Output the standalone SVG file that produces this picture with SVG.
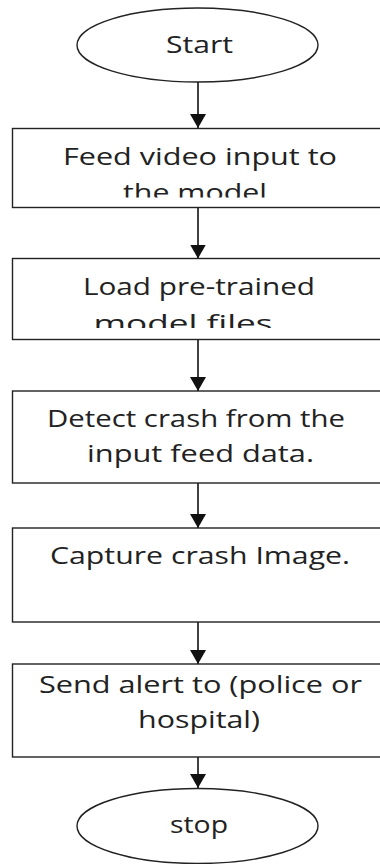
<svg xmlns="http://www.w3.org/2000/svg" width="380" height="864" viewBox="0 0 380 864">
<style>
.shape{fill:#fff;stroke:#222;stroke-width:1.4}
.t{font-family:"Open Sans","Noto Sans",sans-serif;font-size:23px;fill:#222;text-anchor:middle}
.conn{stroke:#111;stroke-width:1.6;fill:none}
</style>
<defs>
<marker id="ah" viewBox="0 0 14 16" refX="14" refY="8" markerWidth="14" markerHeight="16" markerUnits="userSpaceOnUse" orient="auto">
<path d="M0,0 L14,8 L0,16 z" fill="#111"/>
</marker>
<clipPath id="c1"><rect x="12" y="129" width="370" height="68.5"/></clipPath>
<clipPath id="c2"><rect x="12" y="259" width="370" height="69"/></clipPath>
</defs>
<rect width="380" height="864" fill="#fff"/>
<g id="connectors">
<line class="conn" x1="198" y1="82" x2="198" y2="128" marker-end="url(#ah)"/>
<line class="conn" x1="198" y1="208" x2="198" y2="258.5" marker-end="url(#ah)"/>
<line class="conn" x1="198" y1="340" x2="198" y2="391" marker-end="url(#ah)"/>
<line class="conn" x1="198" y1="483" x2="198" y2="528" marker-end="url(#ah)"/>
<line class="conn" x1="198" y1="622" x2="198" y2="664" marker-end="url(#ah)"/>
<line class="conn" x1="198" y1="757" x2="198" y2="788" marker-end="url(#ah)"/>
</g>
<g id="start">
<ellipse class="shape" cx="197.5" cy="45" rx="120.5" ry="37"/>
<text class="t" x="199.5" y="53" textLength="67" lengthAdjust="spacingAndGlyphs">Start</text>
</g>
<g id="feed">
<rect class="shape" x="12.5" y="128.5" width="370" height="79"/>
<g clip-path="url(#c1)">
<text class="t" x="200" y="165" textLength="274" lengthAdjust="spacingAndGlyphs">Feed video input to</text>
<text class="t" x="195" y="201" textLength="144" lengthAdjust="spacingAndGlyphs">the model</text>
</g>
</g>
<g id="load">
<rect class="shape" x="12.5" y="258.5" width="370" height="81"/>
<g clip-path="url(#c2)">
<text class="t" x="199" y="295" textLength="232" lengthAdjust="spacingAndGlyphs">Load pre-trained</text>
<text class="t" x="183" y="332" textLength="179" lengthAdjust="spacingAndGlyphs">model files</text>
</g>
</g>
<g id="detect">
<rect class="shape" x="12.5" y="391" width="370" height="92"/>
<text class="t" x="196" y="427" textLength="298" lengthAdjust="spacingAndGlyphs">Detect crash from the</text>
<text class="t" x="200.5" y="462" textLength="227" lengthAdjust="spacingAndGlyphs">input feed data.</text>
</g>
<g id="capture">
<rect class="shape" x="12.5" y="528" width="370" height="94"/>
<text class="t" x="200" y="564" textLength="300" lengthAdjust="spacingAndGlyphs">Capture crash Image.</text>
</g>
<g id="alert">
<rect class="shape" x="12.5" y="664" width="370" height="93"/>
<text class="t" x="200.5" y="693" textLength="323" lengthAdjust="spacingAndGlyphs">Send alert to (police or</text>
<text class="t" x="199" y="728" textLength="122" lengthAdjust="spacingAndGlyphs">hospital)</text>
</g>
<g id="stop">
<ellipse class="shape" cx="197.5" cy="826" rx="120.5" ry="37.5"/>
<text class="t" x="199" y="833" textLength="58" lengthAdjust="spacingAndGlyphs">stop</text>
</g>
</svg>
